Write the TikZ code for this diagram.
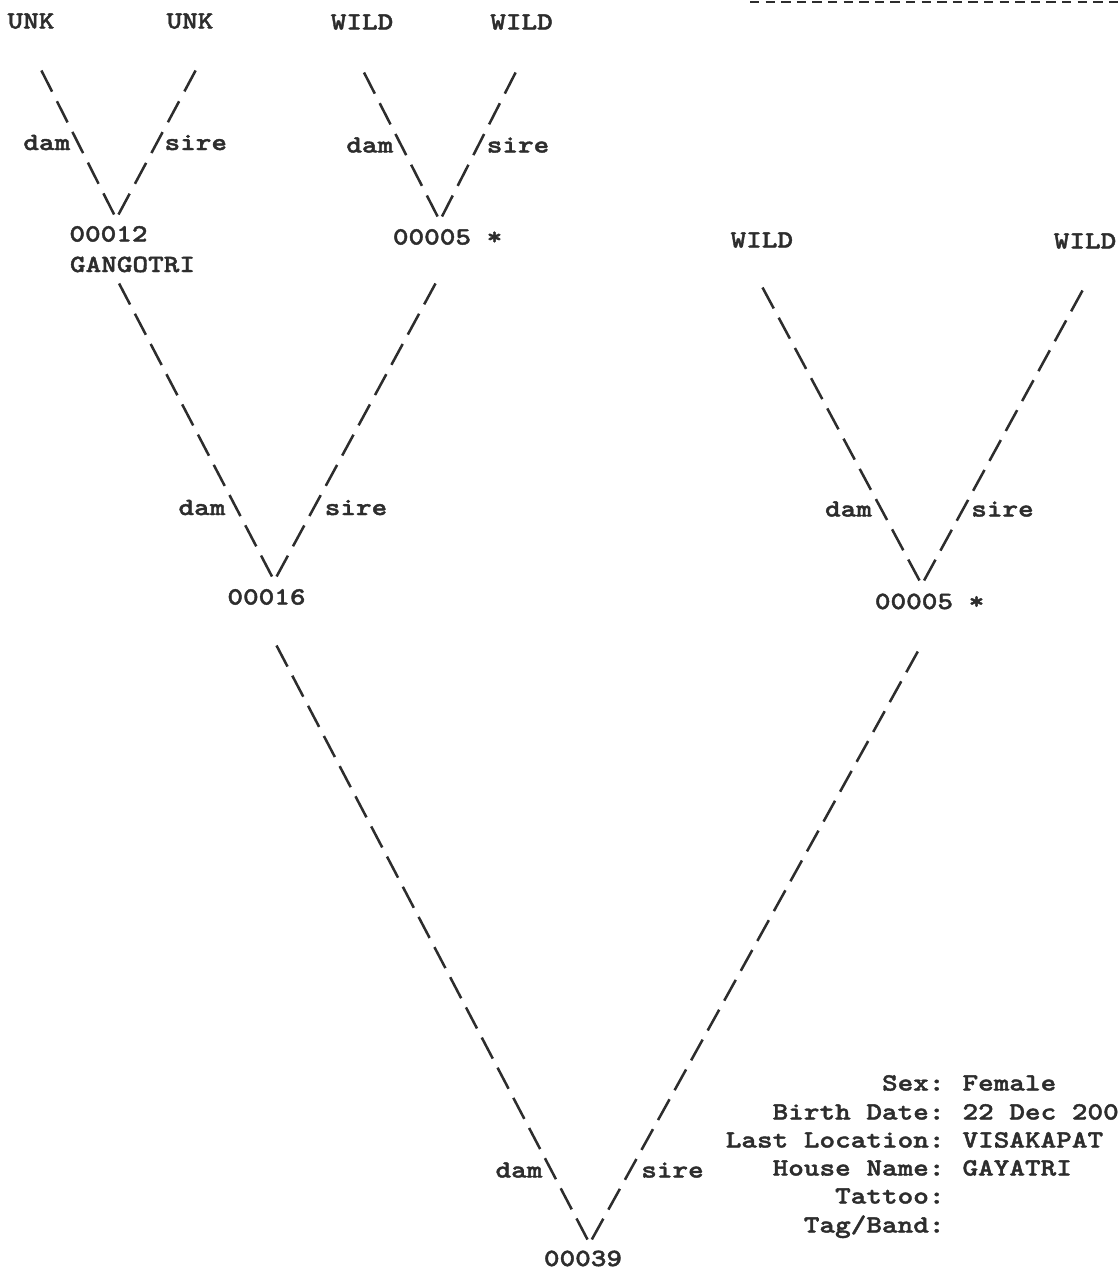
\documentclass[tikz,border=0pt]{standalone}
\usepackage{fontspec}
\usetikzlibrary{calc}
\newfontfamily\chartfont{lmmonolt10-bold.otf}[FakeStretch=1.2,FakeBold=1.6]
\definecolor{ink}{RGB}{45,45,45}

\tikzset{every picture/.style={line width=0.75pt}}
\tikzset{
  lbl/.style={font=\chartfont\fontsize{18.6}{22}\selectfont, text=ink, inner sep=0pt, text height=11.3pt, text depth=0pt},
  link/.style={draw=ink, line width=1.9pt, dash pattern=on 17.8pt off #1},
  link/.default=7.8pt,
  hyph/.style={draw=ink, line width=2.2pt, dash pattern=on 7pt off 4.7pt},
}

\begin{document}
\begin{tikzpicture}[x=0.75pt,y=0.75pt,yscale=-1,xscale=1]
\useasboundingbox (0,0) rectangle (1118,1270);

%Straight Lines
\draw [hyph] (750,2) -- (1118,2) ;

% Text Node
\draw (31,21) node [lbl] (unkA) {UNK};
% Text Node
\draw (190,21) node [lbl] (unkB) {UNK};
% Text Node
\draw (362,22) node [lbl] (wildA) {WILD};
% Text Node
\draw (521.5,22) node [lbl] (wildB) {WILD};
% Text Node
\draw (108.5,234) node [lbl] (n12) {00012};
% Text Node
\draw (132.5,264.5) node [lbl] (gangotri) {GANGOTRI};
% Text Node
\draw (447.6,237) node [lbl] (n05a) {00005 *};
% Text Node
\draw (761.8,240) node [lbl] (wildC) {WILD};
% Text Node
\draw (1085,241) node [lbl] (wildD) {WILD};
% Text Node
\draw (266.5,597) node [lbl] (n16) {00016};
% Text Node
\draw (929.6,601.5) node [lbl] (n05b) {00005 *};
% Text Node
\draw (583,1258.5) node [lbl] (n39) {00039};

% Text Node
\draw (46.8,142.5) node [lbl] (damA) {dam};
% Text Node
\draw (195.8,142.5) node [lbl] (sireA) {sire};
% Text Node
\draw (369.8,145) node [lbl] (damB) {dam};
% Text Node
\draw (518,145) node [lbl] (sireB) {sire};
% Text Node
\draw (202,507.5) node [lbl] (damC) {dam};
% Text Node
\draw (356,507.5) node [lbl] (sireC) {sire};
% Text Node
\draw (848.5,509) node [lbl] (damD) {dam};
% Text Node
\draw (1002.5,509) node [lbl] (sireD) {sire};
% Text Node
\draw (519,1170) node [lbl] (damE) {dam};
% Text Node
\draw (672.5,1170) node [lbl] (sireE) {sire};

%Straight Lines
\draw [link=8pt] ($(unkA)+(10.4,49.5)$) -- ($(n12)+(5.6,-19.5)$) ;
\draw [link=8.4pt] ($(unkB)+(5.6,49.5)$) -- ($(n12)+(10,-19.5)$) ;
%Straight Lines
\draw [link=8.1pt] ($(wildA)+(2,50.5)$) -- ($(n05a)+(-10,-20.5)$) ;
\draw [link=8.1pt] ($(wildB)+(-5.9,50.5)$) -- ($(n05a)+(-5.6,-20.5)$) ;
%Straight Lines
\draw [link=7.77pt] ($(gangotri)+(-13.4,19)$) -- ($(n16)+(5.5,-20.5)$) ;
\draw [link=8pt] ($(n05a)+(-12.1,46.5)$) -- ($(n16)+(10.1,-20.5)$) ;
%Straight Lines
\draw [link=7.92pt] ($(wildC)+(0.7,47.5)$) -- ($(n05b)+(-10.1,-21)$) ;
\draw [link=7.76pt] ($(wildD)+(-2.5,49.5)$) -- ($(n05b)+(-5.5,-21)$) ;
%Straight Lines
\draw [link=7.73pt] ($(n16)+(10,48.5)$) -- ($(n39)+(4.5,-19)$) ;
\draw [link=7.8pt] ($(n05b)+(-11.8,50)$) -- ($(n39)+(8.8,-19)$) ;

% Text Node
\draw (945,1083) node [lbl, anchor=east] (sexLbl) {Sex:};
\draw (962,1083) node [lbl, anchor=west] (sexVal) {Female};
% Text Node
\draw (945,1112) node [lbl, anchor=east] (birthLbl) {Birth Date:};
\draw (962,1112) node [lbl, anchor=west] (birthVal) {22 Dec 200};
% Text Node
\draw (945,1140) node [lbl, anchor=east] (locLbl) {Last Location:};
\draw (962,1140) node [lbl, anchor=west] (locVal) {VISAKAPAT};
% Text Node
\draw (945,1168) node [lbl, anchor=east] (houseLbl) {House Name:};
\draw (962,1168) node [lbl, anchor=west] (houseVal) {GAYATRI};
% Text Node
\draw (945,1196) node [lbl, anchor=east] (tattooLbl) {Tattoo:};
% Text Node
\draw (945,1225) node [lbl, anchor=east] (tagLbl) {Tag/Band:};

\end{tikzpicture}
\end{document}
